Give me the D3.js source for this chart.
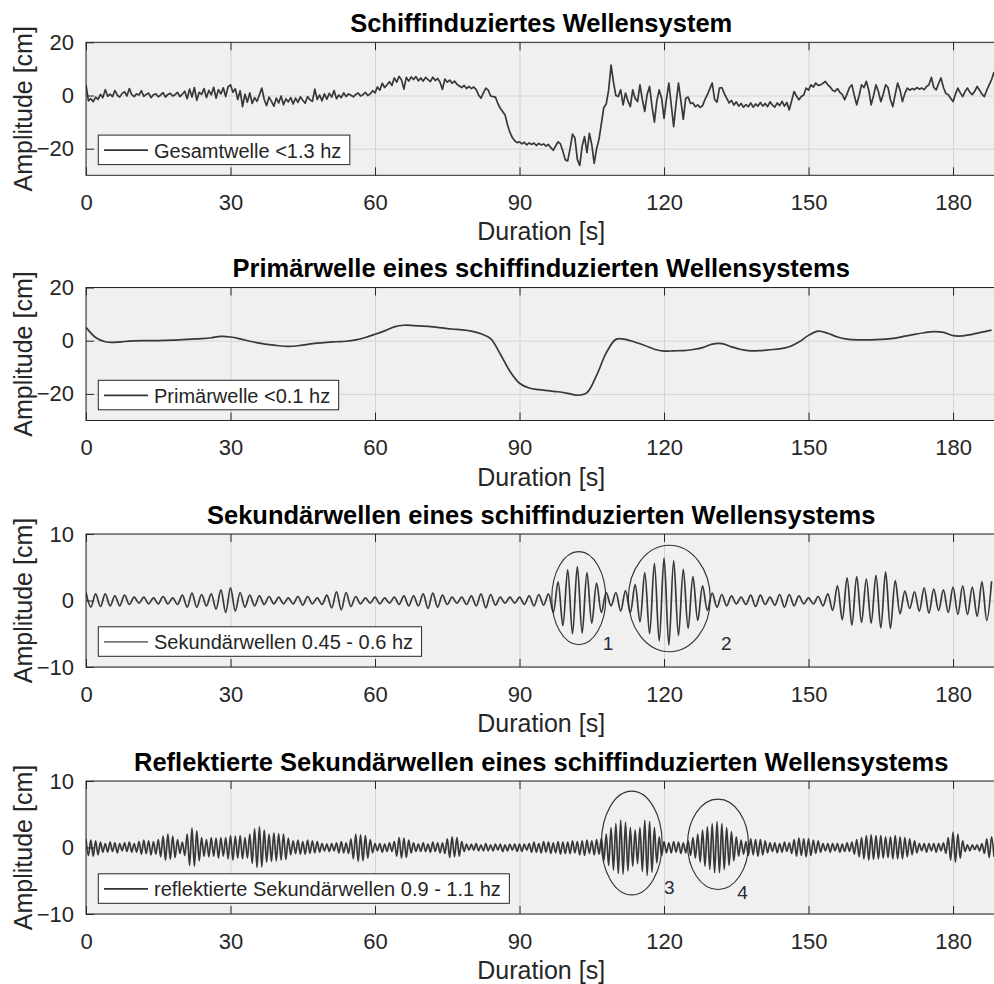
<!DOCTYPE html>
<html>
<head>
<meta charset="utf-8">
<script src="https://cdn.jsdelivr.net/npm/d3@7"></script>
<style>
  body { margin: 0; background: #fff; }
  svg { display: block; font-family: "Liberation Sans", Arial, Helvetica, sans-serif; }
</style>
</head>
<body>
<div id="chart"></div>
<script>
// sample spacing of each recorded series, in seconds
const stepTotal = 0.5;
const stepPrimary = 2;
const stepSecondary = 1;
const stepReflected = 0.5;

// Gesamtwelle <1.3 hz, t = 0 .. 188.5 s
const gesamtwelle = [
  4.0,-2.0,-1.2,-2.3,-0.6,-1.5,0.4,-0.8,2.2,-0.3,0.5,-0.4,1.9,0.1,-0.6,0.8,1.4,-0.2,2.6,0.3,
  -0.4,0.6,0.2,1.8,-0.3,0.4,0.9,-0.8,0.3,0.6,-0.5,0.2,1.1,-0.6,0.4,0.8,-0.2,0.3,1.2,-0.4,
  0.5,1.6,-1.2,2.4,-0.6,3.0,-1.8,1.2,0.4,2.6,-0.8,1.9,0.2,3.1,-1.0,2.2,0.6,2.9,-0.4,3.3,
  4.0,1.2,2.5,-1.5,1.8,-4.2,0.5,-2.5,1.0,-3.0,-0.8,-2.2,0.3,2.8,-1.5,-3.8,-0.6,-2.2,-4.0,-1.0,
  -2.8,-0.2,-3.5,-1.2,-2.4,-0.8,-3.2,-1.0,-2.6,-0.5,-1.8,-2.9,-0.4,-1.6,-2.2,2.4,-1.5,0.2,-2.0,0.6,
  -1.4,0.8,-0.6,1.9,-1.2,0.2,-0.8,1.0,-0.4,0.6,0.1,-0.5,0.4,0.9,-0.2,0.3,1.2,0.0,0.6,1.8,
  1.0,3.2,2.0,4.6,3.0,4.0,5.2,3.8,6.6,5.0,7.2,5.8,2.4,6.8,5.4,7.0,6.0,7.1,5.5,6.6,
  5.4,6.8,6.0,5.2,6.9,5.6,6.4,5.0,2.3,6.2,5.0,5.8,4.6,5.4,4.2,3.6,3.0,3.8,2.6,3.4,
  2.6,3.2,2.2,0.2,-1.0,1.0,2.8,2.0,-0.2,-0.4,-0.6,-3.0,-4.8,-6.0,-7.3,-11.0,-13.8,-15.8,-17.0,-17.7,
  -17.4,-18.2,-17.6,-18.6,-17.8,-18.4,-17.9,-18.8,-18.0,-18.6,-18.2,-19.0,-18.4,-19.6,-20.6,-19.0,-17.4,-18.2,-21.0,-24.2,
  -24.6,-20.0,-14.5,-16.0,-24.0,-26.3,-19.0,-15.5,-21.5,-14.2,-18.5,-25.5,-20.0,-16.5,-10.5,-4.5,-3.2,2.0,11.4,5.0,
  0.0,-0.4,2.1,-3.5,0.9,-2.0,-4.2,2.1,-1.0,-2.3,4.0,-1.5,-6.0,0.5,3.4,-4.0,-10.0,-2.0,2.1,-1.0,
  -8.6,-1.5,4.7,-3.5,-11.7,-3.0,4.7,-2.0,-9.0,-1.0,-0.6,-3.0,-2.8,-4.2,-3.5,-4.5,-3.8,-1.5,0.3,2.5,
  4.7,-1.5,-2.5,2.8,3.0,0.8,-1.0,-2.8,-1.8,-3.6,-2.4,-4.0,-3.0,-4.4,-3.4,-4.2,-2.8,-4.4,-3.2,-4.0,
  -2.6,-4.0,-3.0,-4.2,-2.4,-3.6,-4.4,-2.8,-3.8,-2.2,-4.0,-2.6,-5.4,-2.0,1.5,-0.2,-1.6,-0.4,0.2,2.8,
  2.0,4.0,3.2,4.7,3.8,4.0,4.6,5.3,4.0,3.2,2.0,1.5,2.6,1.2,0.4,-1.6,0.6,3.0,4.0,0.0,
  -3.5,0.0,4.0,3.0,5.3,2.0,-3.5,0.0,4.0,1.5,-2.3,0.5,4.0,3.0,-1.5,-4.2,0.5,4.7,2.0,-2.3,
  0.8,2.8,2.0,2.6,2.2,3.0,2.4,2.8,2.2,3.4,4.0,6.8,3.0,2.1,4.5,6.6,3.0,0.8,0.3,-1.0,
  -2.3,0.5,2.8,1.0,-0.4,1.5,2.8,1.2,0.3,1.6,3.4,2.0,0.5,-0.4,2.0,4.0,6.0,8.8
];

// Primärwelle <0.1 hz, t = 0 .. 188 s
const primaerwelle = [
  5.0,1.2,-0.4,-0.6,-0.3,-0.1,0.0,0.0,0.1,0.2,
  0.4,0.6,0.8,1.1,1.6,1.4,0.7,-0.2,-0.9,-1.5,
  -1.9,-2.1,-1.9,-1.4,-0.9,-0.6,-0.4,-0.2,0.3,1.2,
  2.4,3.7,5.2,5.8,5.7,5.5,5.2,4.8,4.4,4.1,
  3.6,2.6,0.8,-5.0,-11.5,-16.0,-17.8,-18.4,-18.8,-19.2,
  -19.8,-20.5,-19.5,-13.0,-4.6,0.5,0.5,-0.6,-1.8,-3.2,
  -3.9,-3.8,-3.7,-3.3,-2.6,-1.3,-1.1,-2.3,-3.3,-3.8,
  -3.7,-3.4,-3.1,-2.3,-0.5,2.0,3.6,2.8,1.4,0.6,
  0.3,0.3,0.4,0.6,1.0,1.7,2.4,3.0,3.4,3.1,
  1.9,1.8,2.4,3.2,4.0
];

// Sekundärwellen 0.45 - 0.6 hz, t = 0 .. 188 s
const sekundaerwellen = [
  1.2,-1.0,1.0,-0.9,1.0,-0.8,0.7,-0.8,0.8,-0.6,
  0.5,-0.4,0.5,-0.5,0.4,-0.5,0.6,-0.5,0.4,-0.6,
  0.8,-1.0,1.1,-1.0,0.9,-0.8,1.0,-1.3,1.6,-1.8,
  1.9,-1.6,1.2,-1.0,0.8,-0.8,0.7,-0.6,0.6,-0.5,
  0.5,-0.5,0.4,-0.5,0.6,-0.7,0.6,-0.5,0.4,-0.6,
  0.8,-1.1,1.3,-1.4,1.2,-0.9,0.6,-0.5,0.4,-0.4,
  0.5,-0.5,0.4,-0.4,0.5,-0.6,0.7,-0.8,0.7,-0.8,
  1.0,-1.2,1.1,-1.0,0.8,-0.6,0.5,-0.4,0.5,-0.6,
  0.7,-0.8,1.0,-1.1,0.9,-0.7,0.5,-0.4,0.5,-0.4,
  0.5,-0.6,0.7,-0.8,0.9,-0.7,1.0,-1.8,2.8,-3.8,
  4.6,-5.0,5.1,-4.9,4.2,-3.4,2.6,-1.8,1.2,-0.8,
  1.2,-1.6,1.5,-1.8,2.4,-3.2,4.2,-5.0,5.6,-6.1,
  6.4,-6.7,6.0,-5.3,4.7,-4.2,3.6,-3.0,2.2,-1.5,
  1.1,-1.0,0.9,-0.8,0.7,-0.5,0.5,-0.6,0.8,-0.9,
  0.8,-0.6,0.5,-0.7,0.9,-1.0,0.9,-0.8,0.7,-0.5,
  0.4,-0.5,0.6,-0.8,1.0,-1.5,2.2,-2.9,3.4,-3.7,
  3.6,-3.3,3.2,-3.4,3.8,-4.1,4.3,-4.2,3.0,-2.0,
  1.4,-1.2,1.3,-1.6,1.9,-1.9,1.7,-1.5,1.6,-1.8,
  2.0,-2.1,2.2,-2.1,2.0,-2.4,2.8,-3.0,2.9
];

// reflektierte Sekundärwellen 0.9 - 1.1 hz, t = 0 .. 188.5 s
const reflektiert = [
  1.3,-1.2,1.1,-1.3,1.0,-1.1,0.8,-0.7,0.6,-0.7,0.8,-0.6,0.7,-0.8,0.6,-0.5,0.7,-0.6,0.8,-0.7,
  0.6,-0.7,0.9,-1.0,1.1,-0.9,1.0,-1.1,0.9,-1.0,1.2,-1.4,1.7,-1.9,2.0,-1.8,1.7,-1.5,1.2,-0.9,
  0.8,-1.2,2.0,-2.7,2.9,-2.8,2.5,-2.0,1.5,-1.3,1.2,-1.4,1.5,-1.3,1.4,-1.6,1.5,-1.3,1.5,-1.7,
  1.8,-1.9,1.7,-1.6,1.8,-1.7,1.5,-1.6,2.0,-2.4,2.8,-3.0,3.1,-2.9,2.6,-2.2,2.0,-2.1,2.2,-2.0,
  2.1,-1.9,2.0,-1.8,1.4,-1.1,1.0,-0.9,1.1,-1.0,0.9,-1.0,1.1,-0.9,1.0,-0.8,0.9,-0.7,0.6,-0.5,
  0.5,-0.6,0.6,-0.5,0.7,-0.8,0.9,-0.8,0.7,-0.9,1.3,-1.7,2.0,-2.1,1.9,-2.0,1.8,-1.6,1.2,-0.8,
  0.6,-0.5,0.6,-0.7,0.5,-0.6,0.7,-0.6,0.9,-1.3,1.5,-1.6,1.4,-1.5,1.1,-0.8,0.7,-0.6,0.5,-0.6,
  0.7,-0.6,0.5,-0.7,0.8,-0.6,0.7,-0.8,0.7,-0.9,1.3,-1.5,1.6,-1.4,1.5,-1.3,0.9,-0.6,0.5,-0.4,
  0.5,-0.4,0.6,-0.5,0.4,-0.5,0.6,-0.5,0.4,-0.5,0.5,-0.4,0.5,-0.6,0.4,-0.5,0.5,-0.4,0.5,-0.6,
  0.5,-0.6,0.5,-0.4,0.6,-0.7,0.8,-0.7,0.6,-0.8,0.9,-0.7,0.8,-0.9,0.7,-0.8,0.9,-1.0,0.8,-0.9,
  0.8,-0.9,1.0,-0.8,0.9,-1.1,1.0,-1.2,1.1,-0.9,1.0,-1.1,1.2,-1.0,1.4,-2.0,2.0,-2.7,3.0,-3.4,
  3.6,-3.9,4.1,-4.0,3.8,-3.5,3.0,-2.8,2.6,-2.4,3.0,-3.6,4.1,-4.2,3.9,-3.7,3.0,-2.3,1.6,-1.2,
  0.9,-0.8,0.7,-0.8,0.9,-0.7,0.8,-0.9,0.7,-0.8,1.0,-1.2,1.5,-1.6,2.0,-2.2,2.6,-2.8,3.1,-3.3,
  3.6,-3.8,3.9,-3.8,3.6,-3.3,3.0,-2.7,2.4,-2.0,1.6,-1.3,1.1,-1.0,0.9,-1.2,1.3,-1.1,1.2,-1.3,
  1.2,-1.1,1.0,-0.8,0.7,-0.6,0.7,-0.8,0.6,-0.7,0.8,-0.6,0.7,-0.9,1.2,-1.3,1.4,-1.2,1.3,-1.4,
  1.3,-1.2,1.1,-0.9,1.0,-0.7,0.6,-0.5,0.6,-0.7,0.6,-0.5,0.6,-0.7,0.5,-0.6,0.7,-0.6,0.8,-1.0,
  1.2,-1.4,1.5,-1.7,1.8,-1.9,1.9,-1.8,1.8,-1.7,1.8,-1.6,1.6,-1.5,1.6,-1.7,1.8,-1.7,1.6,-1.7,
  1.5,-1.4,1.3,-1.1,1.0,-0.8,0.6,-0.5,0.6,-0.7,0.6,-0.5,0.6,-0.7,0.6,-0.5,0.7,-0.9,1.5,-1.9,
  2.3,-2.2,2.0,-1.6,1.0,-0.6,0.4,-0.5,0.4,-0.3,0.4,-0.5,0.6,-0.9,1.3,-1.5,1.6,-1.4
];

// ticks
const xTicks = [0, 30, 60, 90, 120, 150, 180];
const yTicksWide = [-20, 0, 20];
const yTicksNarrow = [-10, 0, 10];

// wave-packet ellipses: centre time, centre value, half width (s), half height (cm)
const packetsSek = [
  { t: 102.3, v: 0.35, rt: 5.6, rv: 7.0, label: '1', lt: 108.4, lv: -6.4 },
  { t: 121.1, v: 0.3, rt: 8.5, rv: 8.0, label: '2', lt: 132.9, lv: -6.4 }
];
const packetsRef = [
  { t: 113.3, v: 0.67, rt: 6.3, rv: 7.8, label: '3', lt: 121.1, lv: -6.0 },
  { t: 131.2, v: 0.48, rt: 6.33, rv: 6.8, label: '4', lt: 136.3, lv: -6.8 }
];

const panels = [
  { title: 'Schiffinduziertes Wellensystem', legend: 'Gesamtwelle <1.3 hz',
    values: gesamtwelle, step: stepTotal, yDomain: [-30, 20], yTicks: yTicksWide,
    curve: d3.curveLinear, legendColor: '#333', packets: [] },
  { title: 'Primärwelle eines schiffinduzierten Wellensystems', legend: 'Primärwelle <0.1 hz',
    values: primaerwelle, step: stepPrimary, yDomain: [-30, 20], yTicks: yTicksWide,
    curve: d3.curveCatmullRom, legendColor: '#333', packets: [] },
  { title: 'Sekundärwellen eines schiffinduzierten Wellensystems', legend: 'Sekundärwellen 0.45 - 0.6 hz',
    values: sekundaerwellen, step: stepSecondary, yDomain: [-10, 10], yTicks: yTicksNarrow,
    curve: d3.curveCatmullRom, legendColor: '#777', packets: packetsSek },
  { title: 'Reflektierte Sekundärwellen eines schiffinduzierten Wellensystems', legend: 'reflektierte Sekundärwellen 0.9 - 1.1 hz',
    values: reflektiert, step: stepReflected, yDomain: [-10, 10], yTicks: yTicksNarrow,
    curve: d3.curveCatmullRom, legendColor: '#333', packets: packetsRef }
];

const width = 994, height = 984;
const panelTops = [42.3, 287.5, 534, 781];
const panelHeight = 133;
const ink = '#262626';

const svg = d3.select('#chart').append('svg')
    .attr('width', width)
    .attr('height', height);

const x = d3.scaleLinear().domain([0, 189]).range([86, 996.4]);
const midX = (x.range()[0] + x.range()[1]) / 2;

panels.forEach((p, i) => {
    const top = panelTops[i];
    const bottom = top + panelHeight;
    const y = d3.scaleLinear().domain(p.yDomain).range([bottom, top]);
    const g = svg.append('g');

    // axes background
    g.append('rect')
        .attr('x', x(0)).attr('y', top)
        .attr('width', x(189) - x(0)).attr('height', panelHeight)
        .attr('fill', '#f0f0f0');

    // grid
    const gridX = g.append('g')
        .attr('transform', 'translate(0,' + bottom + ')')
        .style('color', '#d4d4d4')
        .call(d3.axisBottom(x).tickValues(xTicks).tickSize(-panelHeight).tickFormat(''));
    gridX.select('.domain').remove();
    const gridY = g.append('g')
        .attr('transform', 'translate(' + x(0) + ',0)')
        .style('color', '#d4d4d4')
        .call(d3.axisLeft(y).tickValues(p.yTicks).tickSize(-(x(189) - x(0))).tickFormat(''));
    gridY.select('.domain').remove();

    // clip for the data line
    g.append('clipPath').attr('id', 'clip' + i)
        .append('rect')
        .attr('x', x(0)).attr('y', top)
        .attr('width', x(189) - x(0)).attr('height', panelHeight);

    const line = d3.line()
        .x((d, k) => x(k * p.step))
        .y(d => y(d))
        .curve(p.curve);

    g.append('path')
        .datum(p.values)
        .attr('clip-path', 'url(#clip' + i + ')')
        .attr('fill', 'none')
        .attr('stroke', '#383838')
        .attr('stroke-width', 1.7)
        .attr('stroke-linejoin', 'round')
        .attr('d', line);

    // wave packet ellipses
    p.packets.forEach(e => {
        g.append('ellipse')
            .attr('cx', x(e.t)).attr('cy', y(e.v))
            .attr('rx', x(e.t + e.rt) - x(e.t))
            .attr('ry', y(0) - y(e.rv))
            .attr('fill', 'none')
            .attr('stroke', '#303030')
            .attr('stroke-width', 1.1);
        g.append('text')
            .attr('x', x(e.lt)).attr('y', y(e.lv))
            .attr('text-anchor', 'middle')
            .attr('dominant-baseline', 'central')
            .attr('font-size', 19)
            .attr('fill', '#2a2a3a')
            .text(e.label);
    });

    // axes: bottom with labels, top ticks only, left with labels
    const axB = g.append('g')
        .attr('transform', 'translate(0,' + bottom + ')')
        .call(d3.axisBottom(x).tickValues(xTicks).tickSize(-8));
    axB.select('.domain').remove();
    axB.selectAll('text').attr('y', 34.5).attr('dy', null);

    const axT = g.append('g')
        .attr('transform', 'translate(0,' + top + ')')
        .call(d3.axisTop(x).tickValues(xTicks).tickSize(-8).tickFormat(''));
    axT.select('.domain').remove();

    const axL = g.append('g')
        .attr('transform', 'translate(' + x(0) + ',0)')
        .call(d3.axisLeft(y).tickValues(p.yTicks).tickSize(-8).tickPadding(12));
    axL.select('.domain').remove();

    [axB, axT, axL].forEach(a => {
        a.style('color', ink)
         .attr('font-family', null)
         .attr('font-size', 22);
    });

    // box
    g.append('rect')
        .attr('x', x(0)).attr('y', top)
        .attr('width', x(189) - x(0)).attr('height', panelHeight)
        .attr('fill', 'none')
        .attr('stroke', ink)
        .attr('stroke-width', 1);

    // legend
    const lg = g.append('g')
        .attr('transform', 'translate(98.3,' + (bottom - 10.7 - 29.5) + ')');
    const box = lg.append('rect')
        .attr('height', 29.5)
        .attr('fill', '#fff')
        .attr('stroke', ink)
        .attr('stroke-width', 1);
    lg.append('line')
        .attr('x1', 5.7).attr('x2', 49.7)
        .attr('y1', 15).attr('y2', 15)
        .attr('stroke', p.legendColor)
        .attr('stroke-width', 1.7);
    const lt = lg.append('text')
        .attr('x', 55.7).attr('y', 22.6)
        .attr('font-size', 20)
        .attr('fill', ink)
        .text(p.legend);
    box.attr('width', 55.7 + lt.node().getComputedTextLength() + 8.5);

    // title
    g.append('text')
        .attr('x', midX).attr('y', top - 10.5)
        .attr('text-anchor', 'middle')
        .attr('font-size', 25.5)
        .attr('font-weight', 'bold')
        .attr('fill', '#000')
        .text(p.title);

    // axis labels
    g.append('text')
        .attr('x', midX).attr('y', bottom + 65)
        .attr('text-anchor', 'middle')
        .attr('font-size', 25)
        .attr('fill', ink)
        .text('Duration [s]');
    g.append('text')
        .attr('transform', 'translate(32,' + (top + panelHeight / 2) + ') rotate(-90)')
        .attr('text-anchor', 'middle')
        .attr('font-size', 25)
        .attr('fill', ink)
        .text('Amplitude [cm]');
});
</script>
</body>
</html>
